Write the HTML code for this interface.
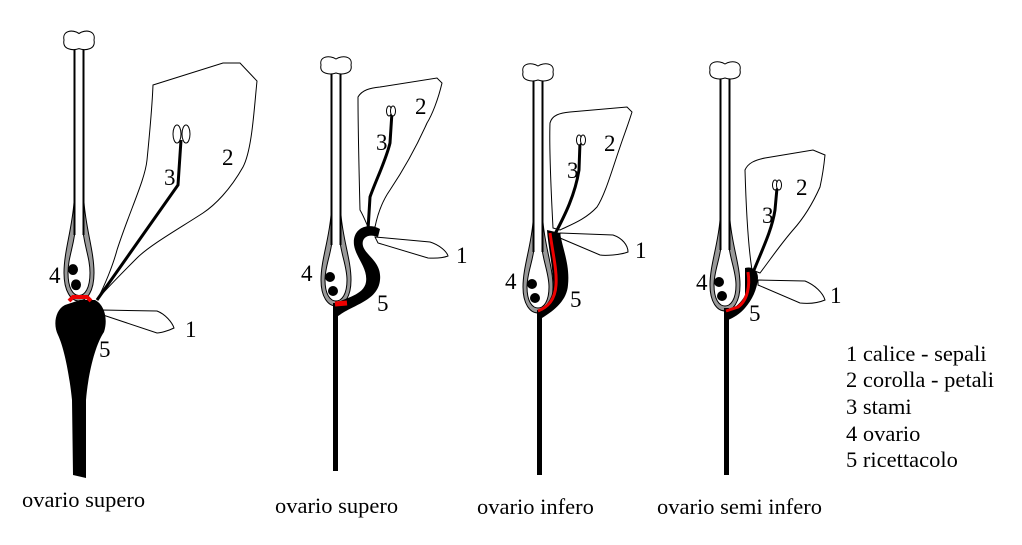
<!DOCTYPE html>
<html><head><meta charset="utf-8"><style>
html,body{margin:0;padding:0;background:#fff}
svg{display:block}
text{font-family:"Liberation Serif",serif;font-size:23px;fill:#000}
.l{font-size:22.5px}
</style></head><body>
<svg width="1022" height="545" viewBox="0 0 1022 545" xmlns="http://www.w3.org/2000/svg">
<defs>
<g id="pist">
  <path d="M-5,150 C-7,175 -15,195 -15,215 C-15,232 -8,241 0,241 C8,241 15,232 15,215 C15,195 7,175 5,150 Z" fill="#999" stroke="#000" stroke-width="1"/>
  <path d="M-3,168 C-4,188 -11,200 -11,215 C-11,229 -6,236 0,236 C6,236 11,229 11,215 C11,200 4,188 3,168 Z" fill="#fff" stroke="#000" stroke-width="1"/>
  <rect x="-4" y="8" width="8" height="170" fill="#fff"/>
  <line x1="-4.5" y1="7" x2="-4.5" y2="180" stroke="#000" stroke-width="2"/>
  <line x1="4.5" y1="7" x2="4.5" y2="180" stroke="#000" stroke-width="2"/>
  <path d="M-15,0 C-17,-9 -6,-10 0,-6 C6,-10 17,-9 15,0 C17,9 6,10 0,8 C-6,10 -17,9 -15,0 Z" fill="#fff" stroke="#000" stroke-width="1"/>
  <circle cx="-6" cy="212" r="5" fill="#000"/>
  <circle cx="-3" cy="226" r="5" fill="#000"/>
</g>
</defs>

<path d="M153,85 L223,63 L240,63 L257,81 C254,110 252,150 243,167 C230,190 215,205 203,213 C180,228 150,245 137,258 C120,275 105,290 97,300 C105,285 113,265 117,250 C130,210 145,180 147,160 C150,130 152,110 153,85 Z" fill="none" stroke="#000" stroke-width="1"/>
<path d="M97,300 L178,185 L181,140" fill="none" stroke="#000" stroke-width="3"/>
<ellipse cx="177" cy="134" rx="4" ry="9" fill="#fff" stroke="#000"/>
<ellipse cx="186" cy="134" rx="4" ry="9" fill="#fff" stroke="#000"/>
<path d="M102,310 L157,311 C165,314 172,322 174,328 C168,331 160,333 157,333 L103,315 Z" fill="#fff" stroke="#000"/>
<g transform="translate(79,40) scale(1,1.083)"><use href="#pist"/></g>
<path d="M65,305 C55,310 53,325 58,335 C65,350 70,380 72,400 L73,475 L86,478 L86,400 C88,375 95,345 104,332 C108,320 105,305 95,300 L80,300 Z" fill="#000"/>
<path d="M69,301 L73,297 L87,297 L91,301" fill="none" stroke="#e00" stroke-width="4"/>

<path d="M358,97 C362,90 370,88 380,87 L437,78 L442,83 C438,100 432,115 427,123 C415,150 400,175 390,190 C383,200 378,212 375,227 L368,227 C363,215 360,210 360,210 C359,170 358,130 358,97 Z" fill="none" stroke="#000"/>
<path d="M368,230 L370,197 C376,180 386,160 390,143 L392,112" fill="none" stroke="#000" stroke-width="3"/>
<ellipse cx="389" cy="111" rx="2.5" ry="5" fill="#fff" stroke="#000"/>
<ellipse cx="393" cy="111" rx="2.5" ry="5" fill="#fff" stroke="#000"/>
<path d="M375,237 L430,242 C440,245 447,252 448,256 C440,259 432,258 428,258 L378,243 Z" fill="#fff" stroke="#000"/>
<g transform="translate(336,65)"><use href="#pist"/></g>
<rect x="333" y="303" width="5" height="168" fill="#000"/>
<path d="M336,318 C350,305 378,302 380,280 C382,262 366,256 363,246 C361,238 368,233 378,237 L380,229 C368,222 352,228 354,245 C356,258 368,268 366,282 C364,295 345,298 336,303 Z" fill="#000"/>
<path d="M335,304 L347,303" stroke="#e00" stroke-width="5"/>

<path d="M550,123 C552,115 560,113 570,112 L627,107 L632,112 C628,125 624,135 620,147 C612,170 605,195 597,207 C585,220 570,225 560,230 L553,228 C551,190 549,150 550,123 Z" fill="none" stroke="#000"/>
<path d="M555,234 C565,215 575,195 579,170 L580,142" fill="none" stroke="#000" stroke-width="3"/>
<ellipse cx="579" cy="140" rx="2.5" ry="5" fill="#fff" stroke="#000"/>
<ellipse cx="583" cy="140" rx="2.5" ry="5" fill="#fff" stroke="#000"/>
<path d="M560,233 L613,235 C622,238 628,245 628,252 C620,255 605,256 600,255 L560,238 Z" fill="#fff" stroke="#000"/>
<g transform="translate(538,72)"><use href="#pist"/></g>
<rect x="537" y="310" width="5" height="165" fill="#000"/>
<path d="M547,230 L560,233 C563,250 570,265 568,285 C567,300 555,310 542,318 L538,312 C548,305 555,295 553,280 C552,262 548,245 547,230 Z" fill="#000"/>
<path d="M550,233 C553,255 557,270 556,285 C555,300 548,307 538,311" fill="none" stroke="#e00" stroke-width="3"/>

<path d="M745,170 C748,163 755,160 765,158 L813,150 L825,155 C824,165 822,178 820,187 C812,205 802,220 793,230 C780,245 770,260 760,273 L752,270 C748,245 746,205 745,170 Z" fill="none" stroke="#000"/>
<path d="M752,275 C762,250 772,230 775,210 L777,188" fill="none" stroke="#000" stroke-width="3"/>
<ellipse cx="775" cy="185" rx="2.5" ry="5" fill="#fff" stroke="#000"/>
<ellipse cx="779" cy="185" rx="2.5" ry="5" fill="#fff" stroke="#000"/>
<path d="M758,280 L805,281 C815,285 823,293 825,300 C818,303 810,304 800,303 L758,285 Z" fill="#fff" stroke="#000"/>
<g transform="translate(725,70)"><use href="#pist"/></g>
<rect x="724" y="308" width="5" height="167" fill="#000"/>
<path d="M745,268 C752,266 758,270 758,278 C757,290 752,300 745,308 C740,314 733,318 728,320 L727,312 C735,308 742,302 745,295 Z" fill="#000"/>
<path d="M748,272 C750,285 748,300 738,307 L726,311" fill="none" stroke="#e00" stroke-width="3"/>

<text x="185" y="337">1</text><text x="222" y="165">2</text><text x="164" y="185">3</text><text x="49" y="283">4</text><text x="99" y="357">5</text>
<text x="456" y="263">1</text><text x="415" y="114">2</text><text x="376" y="150">3</text><text x="301" y="281">4</text><text x="377" y="311">5</text>
<text x="635" y="258">1</text><text x="604" y="151">2</text><text x="567" y="178">3</text><text x="505" y="289">4</text><text x="570" y="307">5</text>
<text x="830" y="303">1</text><text x="796" y="195">2</text><text x="762" y="223">3</text><text x="696" y="290">4</text><text x="749" y="321">5</text>

<text class="l" x="846" y="361">1 calice - sepali</text>
<text class="l" x="846" y="387">2 corolla - petali</text>
<text class="l" x="846" y="414">3 stami</text>
<text class="l" x="846" y="441">4 ovario</text>
<text class="l" x="846" y="467">5 ricettacolo</text>

<text class="l" x="22" y="507">ovario supero</text>
<text class="l" x="275" y="513">ovario supero</text>
<text class="l" x="477" y="514">ovario infero</text>
<text class="l" x="657" y="514">ovario semi infero</text>
</svg>
</body></html>
